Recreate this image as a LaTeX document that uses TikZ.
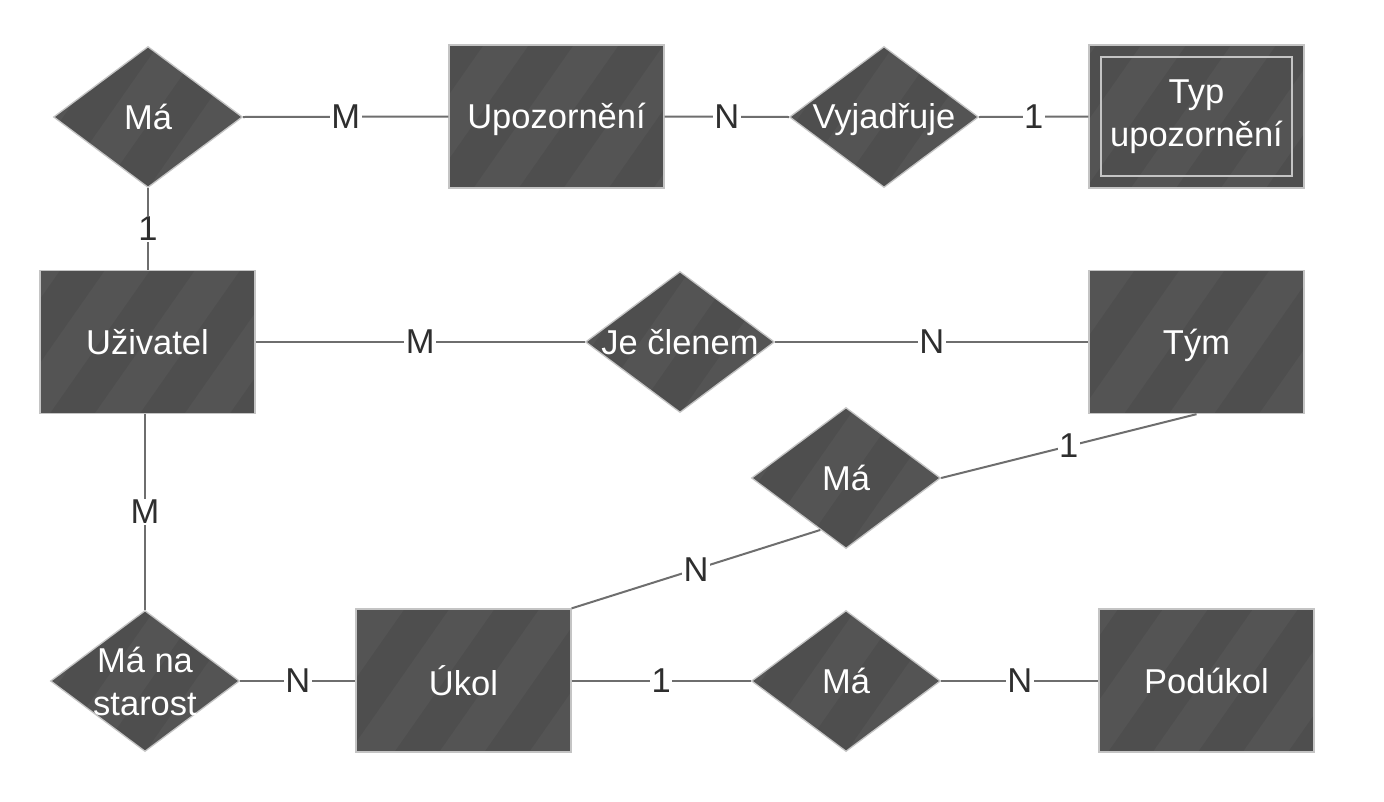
\documentclass[tikz,border=0pt]{standalone}
\usepackage{fontspec}
\setmainfont{Liberation Sans}
\usetikzlibrary{shapes.geometric,calc}

\definecolor{boxfill}{HTML}{4E4E4E}
\definecolor{boxedge}{HTML}{C4C4C4}
\definecolor{linegray}{HTML}{6E6E6E}
\definecolor{cardtext}{HTML}{2E2E2E}

% faint diagonal bands drawn inside every shape
\newcommand\erbands{%
  \begin{scope}[shift={(path picture bounding box.center)}]
    \foreach \k in {-4,...,2}{
      \fill[white, fill opacity=0.035] (\k*90-20,100) -- ++(45,0) -- ++(140,-200) -- ++(-45,0) -- cycle;
    }
  \end{scope}}

% lower a label a little while keeping its nominal size
\newcommand\erdown[1]{\raisebox{-3pt}[\height][\depth]{#1}}

\tikzset{
  erfont/.style={font=\fontsize{34.5}{43}\selectfont},
  ent/.style={rectangle, draw=boxedge, line width=1.3pt, fill=boxfill,
    minimum width=215pt, minimum height=143pt, inner sep=0pt,
    text=white, erfont, align=center, path picture={\erbands}},
  rel/.style={diamond, draw=boxedge, line width=1.3pt, fill=boxfill,
    minimum width=189pt, minimum height=141pt, inner sep=0pt,
    path picture={\erbands}},
  reltext/.style={text=white, erfont, align=center, inner sep=0pt},
  conn/.style={draw=linegray, line width=2pt},
  card/.style={fill=white, text=cardtext, erfont, inner sep=1.5pt},
}

\begin{document}
\begin{tikzpicture}[x=1pt, y=-1pt]
  \useasboundingbox[fill=white] (0,0) rectangle (1384,801);

  % entities
  \node[ent] (upo) at (556.5,116.5) {\erdown{Upozornění}};
  \node[ent] (typ) at (1196.5,116.5) {Typ\\upozornění};
  \draw[boxedge, line width=1.8pt] ($(typ.south west)+(13,-13)$) rectangle ($(typ.north east)+(-13,13)$);
  \node[ent] (uziv) at (147.5,342) {Uživatel};
  \node[ent] (tym) at (1196.5,342) {\erdown{Tým}};
  \node[ent] (ukol) at (463.5,680.5) {Úkol};
  \node[ent] (podukol) at (1206.5,680.5) {Podúkol};

  % relationships
  \node[rel, label={[reltext]center:Má}] (ma1) at (148,117) {};
  \node[rel, label={[reltext]center:\erdown{Vyjadřuje}}] (vyj) at (884,117) {};
  \node[rel, label={[reltext]center:Je členem}] (jc) at (680,342) {};
  \node[rel, label={[reltext]center:Má}] (ma2) at (846,478) {};
  \node[rel, label={[reltext]center:Má na\\starost}] (mns) at (145,681) {};
  \node[rel, label={[reltext]center:Má}] (ma3) at (846,681) {};

  \coordinate (ma2in) at ($(ma2.west)!0.73!(ma2.south)$);

  % connectors with cardinalities
  \draw[conn] (ma1.east) -- node[card]{M} (upo.west);
  \draw[conn] (upo.east) -- node[card]{N} (vyj.west);
  \draw[conn] (vyj.east) -- node[card]{1} (typ.west);
  \draw[conn] (ma1.south) -- node[card]{1} (ma1.south |- uziv.north);
  \draw[conn] (uziv.east |- jc.west) -- node[card]{M} (jc.west);
  \draw[conn] (jc.east) -- node[card]{N} (jc.east -| tym.west);
  \draw[conn] (uziv.south -| mns.north) -- node[card]{M} (mns.north);
  \draw[conn] (mns.east) -- node[card]{N} (mns.east -| ukol.west);
  \draw[conn] (ukol.east |- ma3.west) -- node[card]{1} (ma3.west);
  \draw[conn] (ma3.east) -- node[card]{N} (ma3.east -| podukol.west);
  \draw[conn] (tym.south) -- node[card]{1} (ma2.east);
  \draw[conn] (ukol.north east) -- node[card]{N} (ma2in);
\end{tikzpicture}
\end{document}
